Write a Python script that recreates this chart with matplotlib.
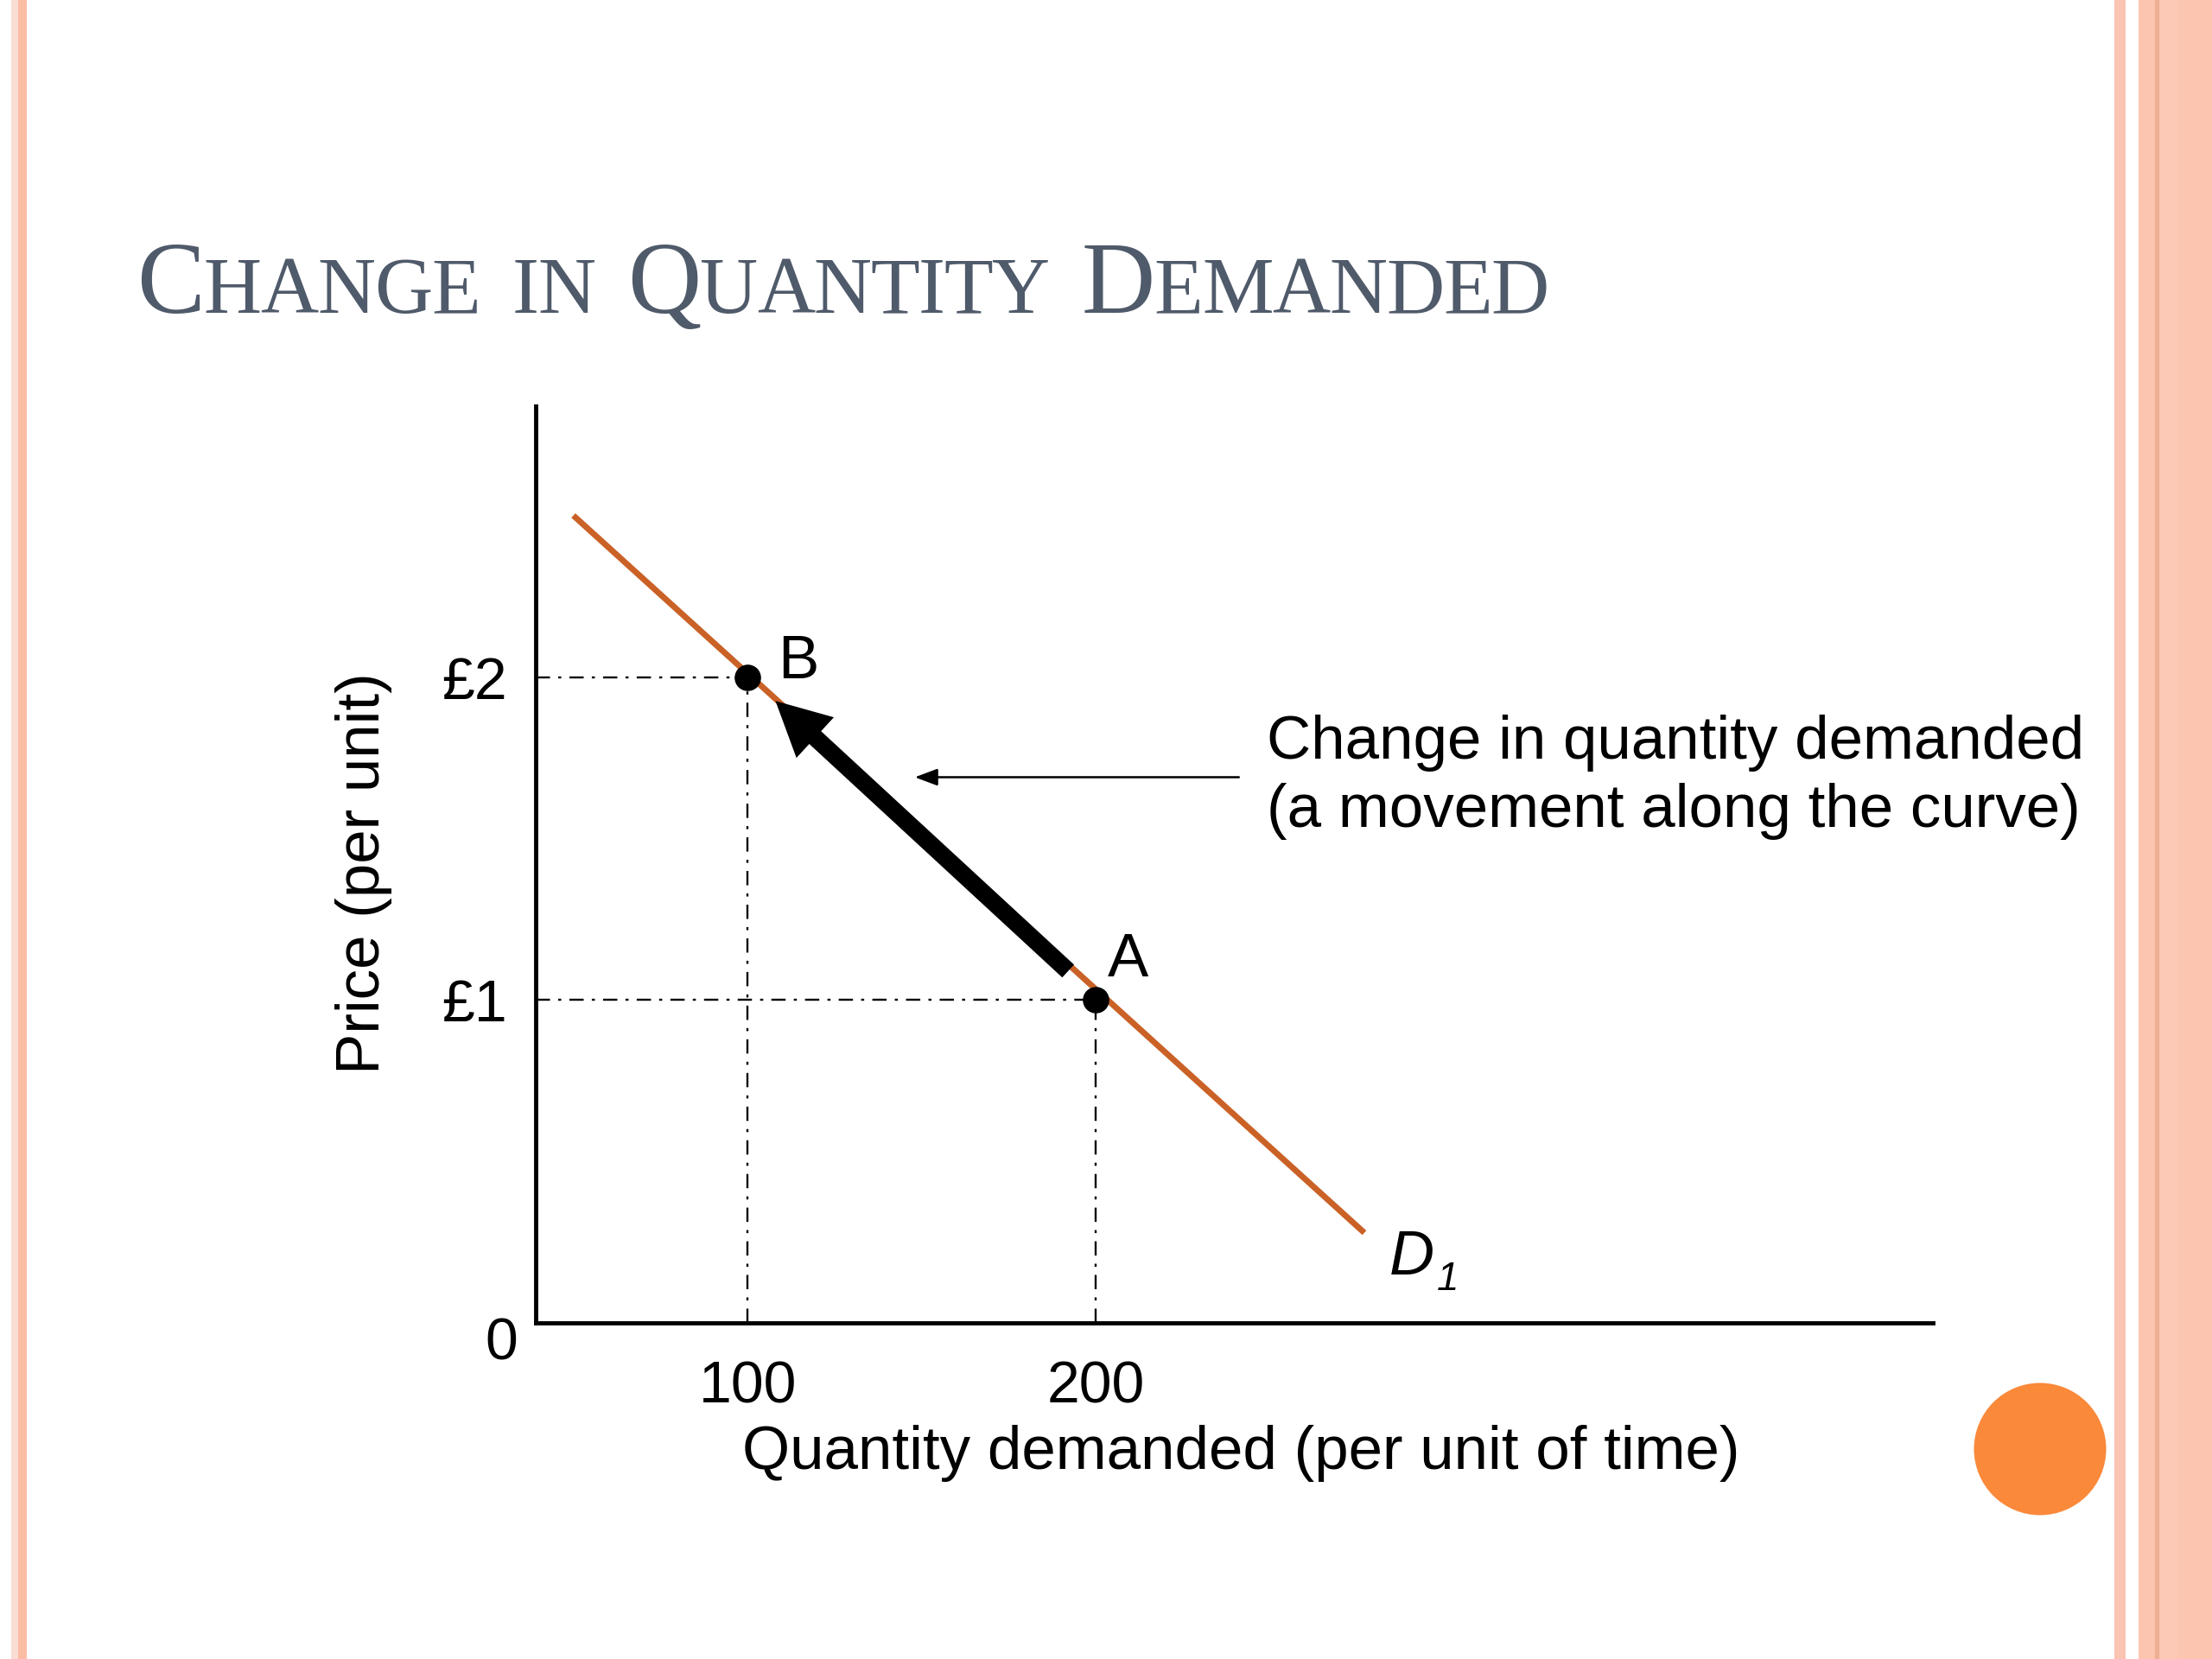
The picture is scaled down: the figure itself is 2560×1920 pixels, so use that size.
import matplotlib
matplotlib.use("Agg")
import matplotlib.pyplot as plt
from matplotlib.patches import Rectangle, Ellipse, FancyArrowPatch

plt.rcParams['font.family'] = ['Liberation Sans', 'DejaVu Sans']

# ---------------- data ----------------
title_text = "Change in Quantity Demanded"
x_label = "Quantity demanded (per unit of time)"
y_label = "Price (per unit)"
x_ticks = [100, 200]
x_tick_labels = ["100", "200"]
y_ticks = [1, 2]
y_tick_labels = ["£1", "£2"]
origin_label = "0"
demand_q = [50, 277]
demand_p = [2.5, 0.28]
demand_name = "D"
demand_sub = "1"
point_names = ["A", "B"]
point_q = [200, 100]
point_p = [1, 2]
move_q = [192, 108]
move_p = [1.09, 1.926]
note_lines = ["Change in quantity demanded", "(a movement along the curve)"]
note_q = [241, 148]
note_p = [1.69, 1.69]
x_range = [39.3, 440.1]
y_range = [0, 2.838]

# ---------------- figure ----------------
W, H = 2560, 1920
fig = plt.figure(figsize=(25.6, 19.2), dpi=100)
fig.patch.set_facecolor("white")


def fx(x):
    return x / 1568.0


def fy(y):
    return 1 - y / 1176.0


# decorative stripes (pixel positions)
def vstripe(x0, x1, color):
    fig.add_artist(Rectangle((x0 / W, 0), (x1 - x0) / W, 1, transform=fig.transFigure,
                             facecolor=color, edgecolor="none", zorder=0))


vstripe(13, 21, "#F9DDD3")
vstripe(21, 31, "#FBBCA5")
vstripe(2447, 2460, "#F9C4B1")
vstripe(2475, 2560, "#FBC5B0")
vstripe(2494, 2499, "#EDAE92")
vstripe(2500, 2520, "#FBC9B6")

# orange circle
fig.add_artist(Ellipse((2361 / W, 1 - 1677 / H), 153 / W, 153 / H, transform=fig.transFigure,
                       facecolor="#FA893A", edgecolor="none", zorder=1))

# title in small caps, placed character by character
renderer = fig.canvas.get_renderer()
big_fs, small_fs = 85, 67
title_color = "#4F5A6A"
items = []
for ch in title_text:
    if ch == " ":
        items.append(None)
    else:
        items.append((ch.upper(), big_fs if ch.isupper() else small_fs))
widths = []
for it in items:
    if it is None:
        widths.append(0)
        continue
    t = fig.text(0, 0, it[0], fontsize=it[1], family="Liberation Serif")
    widths.append(t.get_window_extent(renderer).width)
    t.remove()
n_letters = sum(1 for it in items if it is not None)
n_spaces = sum(1 for it in items if it is None)
word_gap = 38
left_px, right_px = 158, 1793
track = (right_px - left_px - sum(widths) - n_spaces * word_gap) / (n_letters - 1)
xpos = left_px
baseline = 1 - 362 / H
prev_letter = False
for it, w in zip(items, widths):
    if it is None:
        xpos += word_gap
        continue
    if prev_letter:
        xpos += track
    fig.text(xpos / W, baseline, it[0], fontsize=it[1], family="Liberation Serif",
             color=title_color, ha="left", va="baseline")
    xpos += w
    prev_letter = True

# ---------------- axes ----------------
ax = fig.add_axes([fx(380), fy(938), fx(1370) - fx(380), fy(288) - fy(938)])
ax.set_facecolor("none")
ax.set_xlim(*x_range)
ax.set_ylim(*y_range)
for s in ["top", "right"]:
    ax.spines[s].set_visible(False)
for s in ["left", "bottom"]:
    ax.spines[s].set_linewidth(3.5)
    ax.spines[s].set_color("black")
ax.set_xticks(x_ticks)
ax.set_xticklabels(x_tick_labels)
ax.set_yticks(y_ticks)
ax.set_yticklabels(y_tick_labels)
ax.tick_params(axis="both", length=0, labelsize=49)
ax.tick_params(axis="x", pad=30)
ax.tick_params(axis="y", pad=24)

ax.set_xlabel(x_label, fontsize=51)
ax.xaxis.set_label_coords((880 - 380) / 990, (938 - 1030) / 650)
ax.xaxis.label.set_va("center")
ax.set_ylabel(y_label, fontsize=51)
ax.yaxis.set_label_coords((258 - 380) / 990, (938 - 619) / 650)
ax.yaxis.label.set_va("center")

ax.annotate(origin_label, xy=(x_range[0], y_range[0]), xytext=(-29, -17),
            textcoords="offset points", ha="center", va="center", fontsize=49)

# guide lines
dash = (0, (7, 4, 1.5, 4))
for q, p in zip(point_q, point_p):
    ax.plot([x_range[0], q], [p, p], color="black", lw=1.7, ls=dash, zorder=2)
    ax.plot([q, q], [y_range[0], p], color="black", lw=1.7, ls=dash, zorder=2)

# demand curve
ax.plot(demand_q, demand_p, color="#CA6126", lw=5.0, solid_capstyle="butt", zorder=3)
ax.annotate(demand_name, xy=(demand_q[-1], demand_p[-1]), xytext=(21, -35),
            textcoords="offset points", ha="left", va="baseline", fontsize=52,
            style="italic")
ax.annotate(demand_sub, xy=(demand_q[-1], demand_p[-1]), xytext=(60, -48),
            textcoords="offset points", ha="left", va="baseline", fontsize=33,
            style="italic")

# movement arrow
ax.add_patch(FancyArrowPatch((move_q[0], move_p[0]), (move_q[1], move_p[1]),
                             arrowstyle="simple,head_length=45,head_width=46,tail_width=14.5",
                             mutation_scale=1, facecolor="black", edgecolor="none",
                             shrinkA=0, shrinkB=0, zorder=4))

# points
ax.plot(point_q, point_p, "o", ms=21, color="black", zorder=5)
offsets = {"A": (27, 33), "B": (42, 12)}
for name, q, p in zip(point_names, point_q, point_p):
    ax.annotate(name, xy=(q, p), xytext=offsets[name], textcoords="offset points",
                ha="center", va="center", fontsize=51)

# note arrow and text
ax.add_patch(FancyArrowPatch((note_q[0], note_p[0]), (note_q[1], note_p[1]),
                             arrowstyle="-|>,head_length=16,head_width=6",
                             mutation_scale=1, color="black", lw=1.8,
                             shrinkA=0, shrinkB=0, zorder=4))
fig.text(fx(898), fy(527), note_lines[0], fontsize=51, ha="left", va="center")
fig.text(fx(898), fy(575), note_lines[1], fontsize=51, ha="left", va="center")

fig.savefig("out.png", dpi=100)
